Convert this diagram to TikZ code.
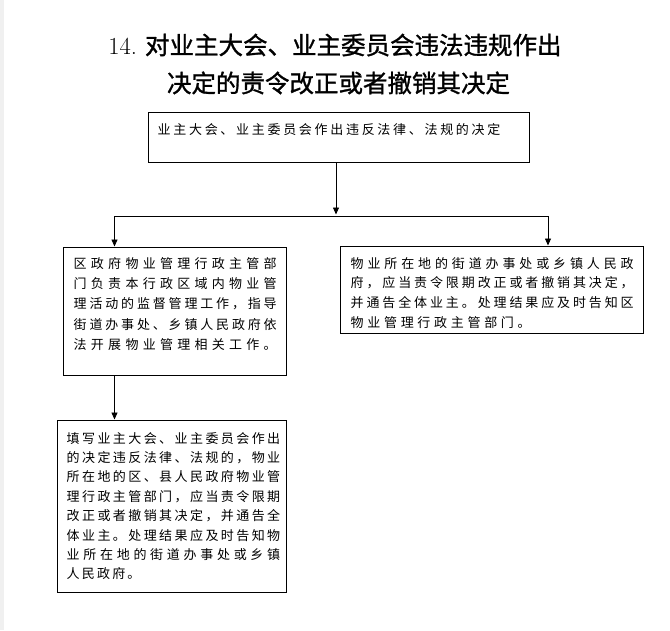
\documentclass[tikz,border=0pt]{standalone}
\usepackage{fontspec}
\newfontfamily\cjk{Noto Sans CJK SC}
\newfontfamily\hei{Noto Sans CJK SC}[FakeBold=1.2]
\usetikzlibrary{arrows.meta}
\def\jgap{}
\def\jaux#1{\ifx#1\relax\else#1\expandafter\jnext\fi}
\def\jnext#1{\ifx#1\relax\else\jgap#1\expandafter\jnext\fi}
\newcommand\bxline[2]{\hbox to #1{\def\jgap{\hfil}\jaux#2\relax}}
\newcommand\trline[2]{\hbox{\def\jgap{\hskip#1\relax}\jaux#2\relax}}
\tikzset{
  box/.style={draw=black, line width=1pt, inner sep=0pt},
  txt/.style={anchor=base west, inner sep=0pt, font=\cjk\fontsize{13}{20}\selectfont},
  ttl/.style={anchor=base, inner sep=0pt},
  arr/.style={-{Triangle[length=7pt,width=6pt]}, line width=0.8pt},
  conn/.style={line width=0.8pt}
}
\begin{document}
\begin{tikzpicture}[x=1pt,y=-1pt]
\useasboundingbox (0,0) rectangle (670,630);
\fill[white] (0,0) rectangle (670,630);
\fill[gray!12] (0,0) rectangle (3.5,630);
% title
\node[ttl] (t1) at (335,54.3) {\fontsize{24.5}{30}\selectfont 14.\kern8pt{\hei 对业主大会、业主委员会违法违规作出}};
\node[ttl] (t2) at (338.5,92.3) {\fontsize{24.5}{30}\selectfont{\hei 决定的责令改正或者撤销其决定}};
% boxes
\node[box, minimum width=381pt, minimum height=50pt] (top) at (338.5,137) {};
\node[box, minimum width=223pt, minimum height=128pt] (left) at (174.5,311) {};
\node[box, minimum width=303pt, minimum height=87pt] (right) at (491.5,289.5) {};
\node[box, minimum width=229pt, minimum height=172pt] (bottom) at (171.5,506) {};
% texts
\node[txt] (topT) at (157.5,134) {\trline{2.7pt}{业主大会、业主委员会作出违反法律、法规的决定}};
\node[txt] (leftT) at (73.5,268) {\vtop{\baselineskip=20.4pt\lineskiplimit=-30pt
  \bxline{203pt}{区政府物业管理行政主管部}
  \bxline{203pt}{门负责本行政区域内物业管}
  \bxline{203pt}{理活动的监督管理工作，指导}
  \bxline{203pt}{街道办事处、乡镇人民政府依}
  \bxline{203pt}{法开展物业管理相关工作。}}};
\node[txt] (rightT) at (350.5,268) {\vtop{\baselineskip=19.7pt\lineskiplimit=-30pt
  \bxline{283pt}{物业所在地的街道办事处或乡镇人民政}
  \bxline{283pt}{府，应当责令限期改正或者撤销其决定，}
  \bxline{283pt}{并通告全体业主。处理结果应及时告知区}
  \trline{3.7pt}{物业管理行政主管部门。}}};
\node[txt] (bottomT) at (66.5,443) {\vtop{\baselineskip=19.4pt\lineskiplimit=-30pt
  \bxline{213.5pt}{填写业主大会、业主委员会作出}
  \bxline{213.5pt}{的决定违反法律、法规的，物业}
  \bxline{213.5pt}{所在地的区、县人民政府物业管}
  \bxline{213.5pt}{理行政主管部门，应当责令限期}
  \bxline{213.5pt}{改正或者撤销其决定，并通告全}
  \bxline{213.5pt}{体业主。处理结果应及时告知物}
  \bxline{213.5pt}{业所在地的街道办事处或乡镇}
  \trline{2.2pt}{人民政府。}}};
% connectors
\coordinate (jtip) at (336,214.5);
\coordinate (jl) at (114.5,216);
\coordinate (jr) at (548,216);
\draw[arr] (top.south -| jtip) -- (jtip);
\draw[conn] (jl) -- (jr);
\draw[arr] (jl) -- (jl |- left.north);
\draw[arr] (jr) -- (jr |- right.north);
\draw[arr] (left.south -| jl) -- (jl |- bottom.north);
\end{tikzpicture}
\end{document}
